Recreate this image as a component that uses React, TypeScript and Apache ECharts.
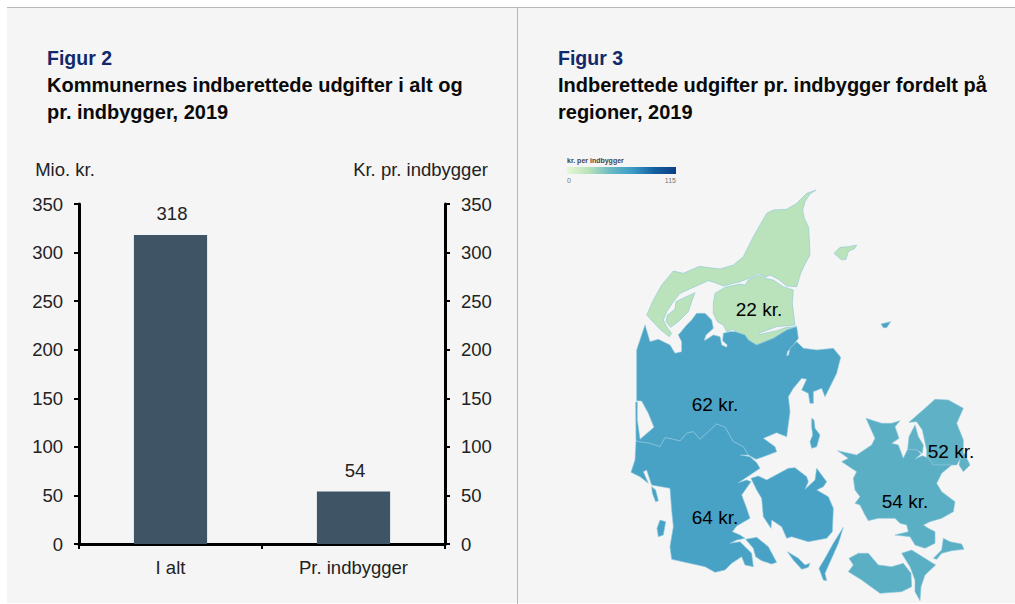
import React, { useEffect, useRef } from "react";
import * as echarts from "echarts";

const FONT = "Liberation Sans";

// Figur 2
const barCategories = ["I alt", "Pr. indbygger"];
const barValues = [318, 54];
const yTicksMax = 350;
const yTicksStep = 50;

// Figur 3
const regionNames = ["Nordjylland", "Midtjylland", "Syddanmark", "Hovedstaden", "Sjælland"];
const regionValues = [22, 62, 64, 52, 54];
const scaleStops = ["#e6f7d6", "#b8e2ba", "#6bb9c4", "#3d9bc6", "#14609f", "#0d3f85"];

type Pt = number[];
const crop = (ox: number, oy: number) => (pts: Pt[]): Pt[] => pts.map(([x, y]) => [ox + x / 3, oy + y / 3]);
const Z1 = crop(540, 140);
const A = crop(630, 270);
const D = crop(630, 340);
const B = crop(625, 440);
const C = crop(835, 390);

const border = D([[18,302],[25,305],[60,310],[90,320],[105,293],[130,298],[150,303],[170,280],[190,275],[210,298],[235,275],[260,252],[285,262],[310,305],[340,320],[355,345]]);

const nordjyllandShapes: Pt[][] = [
  [
    ...Z1([[828,150],[810,162],[795,185],[788,210],[793,235],[806,262],[808,300],[810,345],[795,372],[782,400],[770,440]]),
    ...A([[470,48],[445,28],[420,15],[405,22],[385,10],[365,22],[330,35],[280,48],[255,38],[235,32],[195,50],[150,70],[130,95],[110,125],[100,150],[110,170],[125,190],[118,200],[90,178],[50,135]]),
    ...Z1([[340,480],[365,435],[400,393],[430,400],[478,379],[540,387],[580,375],[610,350],[640,290],[680,220],[700,210],[740,208],[770,190],[800,160]]),
  ],
  A([[250,100],[255,70],[285,52],[330,42],[345,45],[355,30],[385,15],[405,25],[430,30],[460,50],[490,60],[487,100],[495,165],[440,170],[385,190],[390,193],[440,182],[470,172],[500,170],[470,180],[430,205],[380,225],[355,210],[345,195],[315,185],[310,178],[290,185],[280,165],[262,155],[250,130]]),
  A([[112,135],[135,118],[138,95],[165,82],[195,68],[185,95],[175,125],[145,155],[122,172],[108,155]]),
  Z1([[882,340],[900,322],[925,320],[950,315],[945,325],[925,335],[918,358],[905,360]]),
];
const midtjyllandShapes: Pt[][] = [
  [
    ...A([[45,165],[60,215],[85,208],[120,225],[135,250],[155,245],[155,215],[145,195],[170,165],[185,150],[200,130],[225,130],[245,150],[250,175],[228,195],[222,212],[235,205],[250,195],[270,200],[275,225],[290,232],[292,225],[278,212],[280,190],[300,185],[315,185],[345,195],[355,210],[380,225],[430,205],[470,180],[500,170],[505,205],[490,225],[472,245],[470,258],[476,255],[480,235],[500,215],[520,235],[560,240],[610,235],[632,262]]),
    ...D([[620,100],[600,140],[585,170],[575,145],[550,155],[550,190],[540,190],[535,160],[515,150],[530,118],[515,115],[490,145],[475,170],[480,215],[470,290],[440,278],[400,295],[435,320],[440,335],[400,350],[378,358]]),
    ...[...border].reverse(),
    ...D([[17,186],[22,186],[22,240],[30,298],[72,262],[55,220],[35,183],[20,182],[20,90],[20,30]]),
  ],
  D([[545,235],[552,240],[555,265],[570,285],[560,320],[545,325],[540,305],[548,285],[545,260]]),
  Z1([[1023,552],[1052,545],[1040,563],[1030,563]]),
];
const syddanmarkShapes: Pt[][] = [
  [
    ...border,
    ...B([[345,45],[375,50],[395,68],[405,85],[375,105],[340,128],[365,120],[378,125],[350,165],[365,205],[375,235],[335,258],[322,275],[345,285],[360,295],[335,300],[315,310],[345,305],[380,340],[385,380],[360,375],[350,350],[320,370],[300,390],[270,397],[240,380],[140,358],[135,320],[145,260],[140,210],[135,145],[80,135],[65,90],[55,95],[70,130],[45,110],[18,97],[30,60]]),
  ],
  B([[362,298],[395,292],[430,320],[455,367],[440,372],[410,362],[392,350],[385,325]]),
  B([[378,115],[400,108],[425,120],[490,85],[510,83],[545,110],[550,125],[540,148],[570,120],[575,85],[605,125],[595,140],[575,150],[610,170],[625,205],[622,275],[605,295],[550,305],[500,290],[485,295],[470,260],[440,240],[438,265],[415,230],[410,175],[395,150]]),
  B([[655,262],[640,310],[600,400],[605,422],[595,420],[582,385],[600,355],[625,310]]),
  B([[487,335],[520,355],[540,375],[555,370],[550,382],[530,388],[505,360]]),
  B([[80,140],[92,150],[100,182],[92,185],[82,160]]),
  B([[105,240],[122,245],[115,285],[100,290],[96,265]]),
];
const hovedstadenShapes: Pt[][] = [
  C([[222,97],[270,55],[300,28],[340,30],[385,55],[365,100],[385,150],[385,190],[365,225],[350,225],[295,225],[280,205],[275,205],[275,180],[262,120],[245,95]]),
  C([[218,178],[222,140],[240,105],[250,140],[265,165],[262,190],[245,180]]),
  C([[378,195],[388,190],[405,225],[385,245],[372,225]]),
];
const sjaellandShapes: Pt[][] = [
  C([[8,182],[65,195],[110,165],[120,145],[93,85],[140,100],[170,100],[195,92],[180,110],[192,145],[170,160],[190,165],[205,205],[218,178],[245,180],[258,192],[240,207],[262,197],[280,205],[295,225],[350,225],[320,250],[305,280],[320,305],[360,335],[355,365],[320,385],[285,395],[265,405],[280,415],[300,425],[300,460],[270,475],[240,465],[225,440],[180,435],[220,425],[215,405],[195,400],[180,385],[130,385],[100,392],[90,375],[75,345],[60,340],[75,320],[60,300],[55,265],[65,245],[20,215],[40,205]]),
  C([[42,505],[70,490],[100,490],[130,525],[170,530],[205,520],[228,550],[230,590],[200,605],[135,610],[80,570],[40,545],[55,525]]),
  C([[200,490],[230,480],[302,525],[270,555],[258,590],[255,632],[240,605],[240,570],[225,530]]),
  C([[295,505],[320,480],[325,445],[345,455],[380,462],[387,478],[350,482],[320,490],[305,508]]),
];
const regionShapes = [nordjyllandShapes, midtjyllandShapes, syddanmarkShapes, hovedstadenShapes, sjaellandShapes];
const labelPixels = [[759, 309], [715, 404], [715, 517], [951, 451], [905, 501]];

function buildGeo() {
  return {
    type: "FeatureCollection",
    features: regionNames.map((name, i) => ({
      type: "Feature",
      properties: { name, cp: [labelPixels[i][0], -labelPixels[i][1]] },
      geometry: {
        type: "MultiPolygon",
        coordinates: regionShapes[i].map((s) => {
          const ring = s.map(([x, y]) => [x, -y]);
          ring.push(ring[0]);
          return [ring];
        }),
      },
    })),
  };
}

export default function App() {
  const ref = useRef<HTMLDivElement>(null);
  useEffect(() => {
    const chart = echarts.init(ref.current!, null, { renderer: "svg" });
    echarts.registerMap("dk", buildGeo() as any);
    const titleStyle = { fontFamily: FONT, fontSize: 19.5, fontWeight: "bold", color: "#12296b" };
    const subStyle = { fontFamily: FONT, fontSize: 20, fontWeight: "bold", color: "#0a0a0a", lineHeight: 27 };
    const tickFont = 18.5;
    chart.setOption({
      animation: false,
      backgroundColor: "#ffffff",
      textStyle: { fontFamily: FONT },
      title: [
        { text: "Figur 2", subtext: "Kommunernes indberettede udgifter i alt og\npr. indbygger, 2019", left: 47, top: 48, padding: 0, itemGap: 3, textStyle: titleStyle, subtextStyle: subStyle },
        { text: "Figur 3", subtext: "Indberettede udgifter pr. indbygger fordelt på\nregioner, 2019", left: 558, top: 48, padding: 0, itemGap: 3, textStyle: titleStyle, subtextStyle: subStyle },
      ],
      grid: { left: 79, right: 570, top: 204, bottom: 60 },
      xAxis: {
        type: "category",
        data: barCategories,
        axisLine: { lineStyle: { color: "#000", width: 3 } },
        axisTick: { show: true, alignWithLabel: false, interval: 0, length: 5, lineStyle: { color: "#000", width: 2 } },
        axisLabel: { color: "#222", fontSize: tickFont, margin: 14 },
      },
      yAxis: [
        {
          type: "value", min: 0, max: yTicksMax, interval: yTicksStep, position: "left",
          name: "Mio. kr.", nameGap: 25, nameTextStyle: { color: "#222", fontSize: tickFont, align: "center", padding: [0, 0, 0, -28] },
          axisLine: { show: true, lineStyle: { color: "#000", width: 3 } },
          axisTick: { show: true, length: 5, lineStyle: { color: "#000", width: 2 } },
          axisLabel: { color: "#222", fontSize: tickFont, margin: 16 },
          splitLine: { show: false },
        },
        {
          type: "value", min: 0, max: yTicksMax, interval: yTicksStep, position: "right",
          name: "Kr. pr. indbygger", nameGap: 25, nameTextStyle: { color: "#222", fontSize: tickFont, align: "center", padding: [0, 49, 0, 0] },
          axisLine: { show: true, lineStyle: { color: "#000", width: 3 } },
          axisTick: { show: true, length: 5, lineStyle: { color: "#000", width: 2 } },
          axisLabel: { color: "#222", fontSize: tickFont, margin: 16 },
          splitLine: { show: false },
        },
      ],
      visualMap: {
        type: "continuous",
        show: false,
        seriesIndex: 1,
        min: 0,
        max: 115,
        inRange: { color: scaleStops },
      },
      series: [
        {
          type: "bar",
          data: barValues,
          barWidth: "40%",
          itemStyle: { color: "#3f5464" },
          label: { show: true, position: "top", distance: 12, offset: [1.5, 0], color: "#222", fontSize: tickFont },
          z: 2,
        },
        {
          type: "map",
          map: "dk",
          aspectScale: 1,
          roam: false,
          silent: true,
          boundingCoords: [[0, 0], [1015, -604]],
          left: 0,
          top: 0,
          width: 1015,
          height: 604,
          data: regionNames.map((name, i) => ({ name, value: regionValues[i] })),
          itemStyle: { borderColor: "#8cc6dc", borderWidth: 0.6 },
          label: { show: true, formatter: "{c} kr.", color: "#000", fontSize: 19 },
          select: { disabled: true },
          emphasis: { disabled: true },
          z: 2,
        },
      ],
      graphic: [
        { type: "rect", z: -10, silent: true, shape: { x: 7, y: 8, width: 1008, height: 595 }, style: { fill: "#f5f5f5" } },
        { type: "line", z: -9, silent: true, shape: { x1: 7, y1: 7.5, x2: 1015, y2: 7.5 }, style: { stroke: "#b8b8b8", lineWidth: 1 } },
        { type: "line", z: -9, silent: true, shape: { x1: 517.5, y1: 8, x2: 517.5, y2: 604 }, style: { stroke: "#b8b8b8", lineWidth: 1 } },
        {
          type: "rect", silent: true, shape: { x: 567, y: 167, width: 109, height: 7 },
          style: {
            fill: new echarts.graphic.LinearGradient(0, 0, 1, 0, scaleStops.map((color, i) => ({ offset: i / (scaleStops.length - 1), color }))),
          },
        },
        { type: "text", silent: true, style: { x: 567, y: 160, text: "kr. per indbygger", fill: "#444", fontFamily: FONT, fontSize: 7, fontWeight: "bold", verticalAlign: "middle" } },
        { type: "text", silent: true, style: { x: 567, y: 180, text: "0", fill: "#777", fontFamily: FONT, fontSize: 7, verticalAlign: "middle" } },
        { type: "text", silent: true, style: { x: 676, y: 180, text: "115", fill: "#777", fontFamily: FONT, fontSize: 7, align: "right", verticalAlign: "middle" } },
      ],
    });
    return () => chart.dispose();
  }, []);
  return <div ref={ref} style={{ position: "absolute", left: 0, top: 0, width: 1015, height: 604 }} />;
}
